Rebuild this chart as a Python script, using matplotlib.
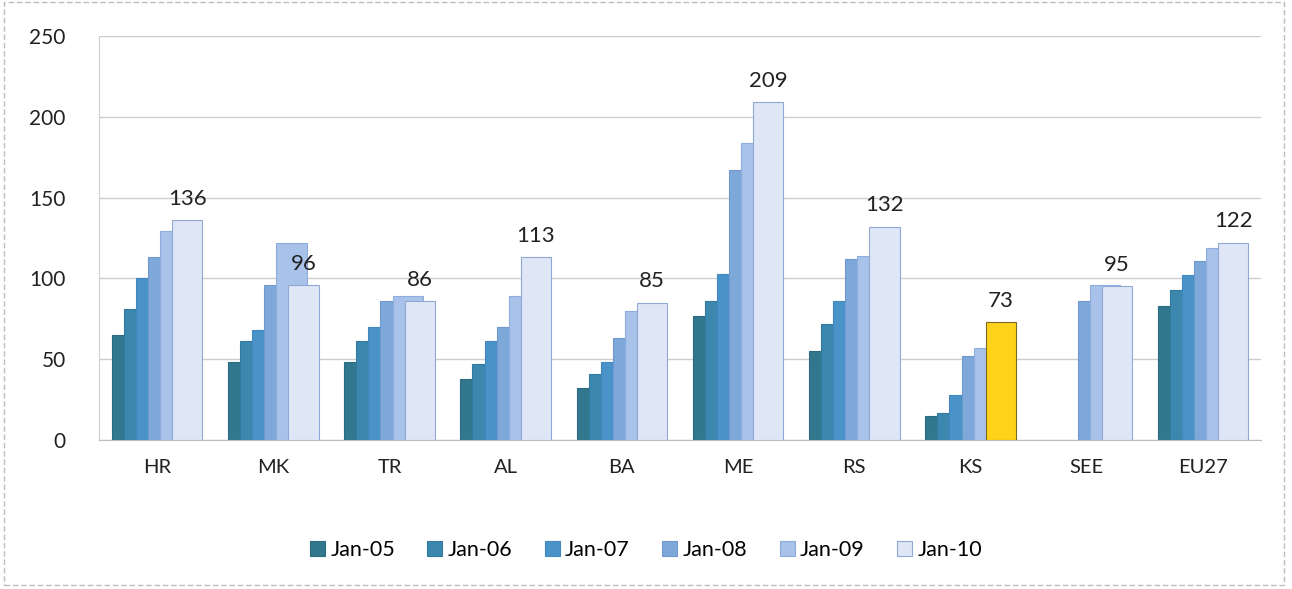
import numpy as np
import matplotlib.pyplot as plt
from matplotlib.patches import Rectangle

plt.rcParams['font.family'] = ['Lato', 'DejaVu Sans']

countries = ["HR", "MK", "TR", "AL", "BA", "ME", "RS", "KS", "SEE", "EU27"]
series = ["Jan-05", "Jan-06", "Jan-07", "Jan-08", "Jan-09", "Jan-10"]

jan05 = [65, 48, 48, 38, 32, 77, 55, 15, np.nan, 83]
jan06 = [81, 61, 61, 47, 41, 86, 72, 17, np.nan, 93]
jan07 = [100, 68, 70, 61, 48, 103, 86, 28, np.nan, 102]
jan08 = [113, 96, 86, 70, 63, 167, 112, 52, 86, 111]
jan09 = [129, 122, 89, 89, 80, 184, 114, 57, 96, 119]
jan10 = [136, 96, 86, 113, 85, 209, 132, 73, 95, 122]

values = [jan05, jan06, jan07, jan08, jan09, jan10]
colors = ["#31788f", "#3b87ad", "#4a93c9", "#7ea7da", "#a9c2e9", "#dfe6f6"]
edges = ["#2c6a80", "#347aa0", "#4287bd", "#6f98cf", "#8eadde", "#8fa8d4"]

fig = plt.figure(figsize=(12.92, 5.89), dpi=100)
ax = fig.add_axes([0.0766, 0.253, 0.8995, 0.686])

x = np.arange(len(countries))
step = 0.104
width = 0.26
start = -(5 * step + width) / 2

for i, (name, vals) in enumerate(zip(series, values)):
    bars = ax.bar(x + start + i * step, vals, width=width, align='edge',
                  color=colors[i], edgecolor=edges[i], linewidth=0.8,
                  label=name, zorder=2 + i)
    if i == 5:
        # Kosovo's latest value is highlighted
        bars[countries.index("KS")].set_facecolor("#ffd21a")
        bars[countries.index("KS")].set_edgecolor("#7a6a20")
        for xi, v in zip(x, vals):
            ax.text(xi + start + 5 * step + width / 2, v + 7, f"{v:g}",
                    ha='center', va='bottom', fontsize=16, color="#222222",
                    zorder=20)

ax.set_xlim(-0.5, len(countries) - 0.5)
ax.set_ylim(0, 250)
ax.set_yticks(range(0, 251, 50))
ax.set_xticks(x)
ax.set_xticklabels(countries)
ax.tick_params(axis='y', length=0, pad=24, labelsize=15, labelcolor="#222222")
ax.tick_params(axis='x', length=0, pad=14, labelsize=14.5, labelcolor="#222222")
ax.grid(axis='y', color="#cccccc", linewidth=1.0, zorder=0)
ax.set_axisbelow(True)
for side in ["top", "right"]:
    ax.spines[side].set_visible(False)
ax.spines["left"].set_color("#cfcfcf")
ax.spines["bottom"].set_color("#bbbbbb")

handles, labels = ax.get_legend_handles_labels()
fig.legend(handles, labels, loc='center', bbox_to_anchor=(0.5, 0.066), ncol=6,
           frameon=False, fontsize=15.5, handlelength=0.7, handleheight=0.7,
           handletextpad=0.25, columnspacing=1.5)

fig.patches.append(Rectangle((0.003, 0.006), 0.991, 0.99, transform=fig.transFigure,
                             fill=False, edgecolor="#bdbdbd", linewidth=1.0,
                             linestyle=(0, (4, 2))))

fig.savefig("out.png", dpi=100)
